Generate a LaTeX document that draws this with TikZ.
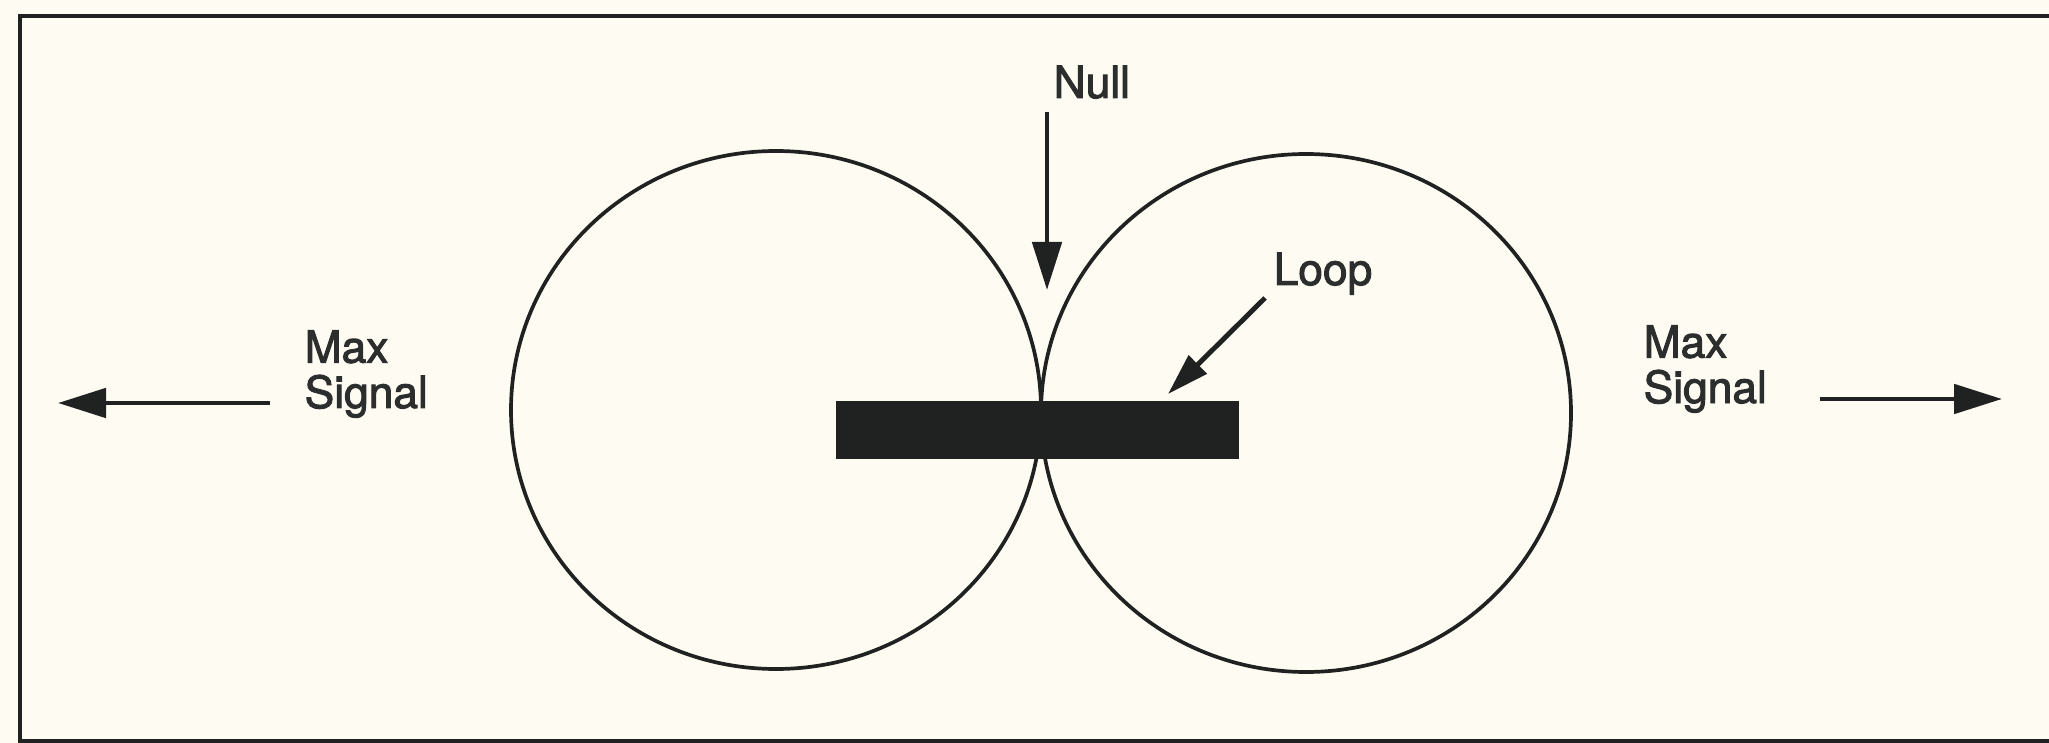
\documentclass[tikz,border=0pt]{standalone}
\usepackage{fontspec}
\setmainfont{TeX Gyre Heros}
\newfontfamily\labelfont{TeX Gyre Heros}[FakeBold=2.2]
\usetikzlibrary{arrows.meta}
\definecolor{paper}{RGB}{253,251,242}
\definecolor{ink}{RGB}{32,34,33}
\definecolor{txt}{RGB}{44,46,45}
\tikzset{
  lbl/.style={inner sep=0pt, text=txt, align=left,
    font=\labelfont\fontsize{12.6}{12.9}\selectfont},
  lobe/.style={draw=ink, line width=1.05pt},
  pointer/.style={draw=ink, line width=1.4pt,
    -{Triangle[length=0.48cm,width=0.29cm]}},
}
\begin{document}
\begin{tikzpicture}[x=0.01cm,y=-0.01cm]
  \useasboundingbox (0,0) rectangle (2049,743);
  \fill[paper] (0,0) rectangle (2049,743);
  \begin{scope}
    \clip (0,0) rectangle (2049,743);
    % outer frame
    \draw[ink, line width=1.15pt] (20,16) rectangle (2070,741);
  \end{scope}

  % radiation pattern lobes
  \draw[lobe] (776,410) ellipse [x radius=265, y radius=259];
  \draw[lobe] (1306,413) ellipse [x radius=265, y radius=259];

  % the loop seen edge-on
  \node[fill=ink, inner sep=0pt, minimum width=4.03cm, minimum height=0.58cm,
        anchor=north west] (bar) at (835,400) {};

  % labels (base = baseline of the last line)
  \node[lbl, anchor=base west] (maxl) at (304,408) {Max\\Signal};
  \node[lbl, anchor=base west] (maxr) at (1643,403) {Max\\Signal};
  \node[lbl, anchor=base west] (null) at (1053,98) {Null};
  \node[lbl, anchor=base west] (loop) at (1273,285) {Loop};

  % arrow end points
  \coordinate (l0) at (270,403);
  \coordinate (l1) at (58,403);
  \coordinate (r0) at (1820,399);
  \coordinate (r1) at (2002,399);
  \coordinate (n0) at (1047,112);
  \coordinate (n1) at (1047,290);
  \coordinate (p0) at (1265,298);
  \coordinate (p1) at (1168,394);

  \draw[pointer] (l0) -- (l1);
  \draw[pointer] (r0) -- (r1);
  \draw[pointer] (n0) -- (n1);
  \draw[pointer, -{Triangle[length=0.42cm,width=0.25cm]}] (p0) -- (p1);
\end{tikzpicture}
\end{document}
